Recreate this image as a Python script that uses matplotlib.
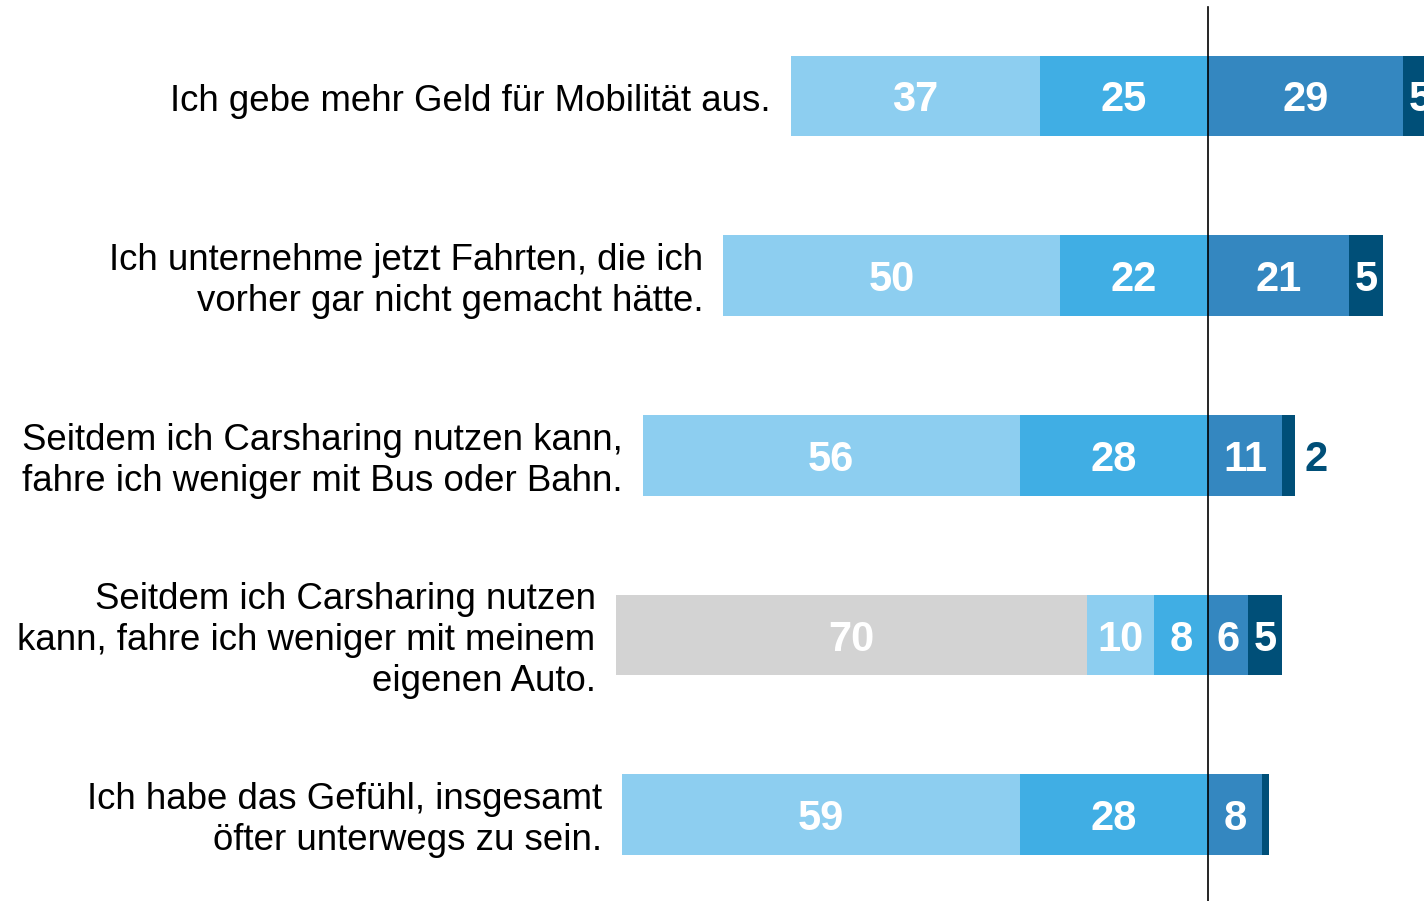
import matplotlib
matplotlib.use("Agg")
import matplotlib.pyplot as plt

questions = [
    "Ich gebe mehr Geld für Mobilität aus.",
    "Ich unternehme jetzt Fahrten, die ich\nvorher gar nicht gemacht hätte.",
    "Seitdem ich Carsharing nutzen kann,\nfahre ich weniger mit Bus oder Bahn.",
    "Seitdem ich Carsharing nutzen\nkann, fahre ich weniger mit meinem\neigenen Auto.",
    "Ich habe das Gefühl, insgesamt\nöfter unterwegs zu sein.",
]
na_vals = [0, 0, 0, 70, 0]
light = [37, 50, 56, 10, 59]
mid = [25, 22, 28, 8, 28]
dark = [29, 21, 11, 6, 8]
darkest = [5, 5, 2, 5, 1]

c_na = "#d3d3d3"
c_light = "#8dcef0"
c_mid = "#40aee4"
c_dark = "#3487c0"
c_darkest = "#004f78"

plt.rcParams["font.family"] = ["Liberation Sans", "DejaVu Sans"]

fig = plt.figure(figsize=(14.24, 9.01), dpi=100)
ax = fig.add_axes([0, 0, 1, 1])
ax.set_xlim(-179.5, 32.1)
ax.set_ylim(4.48, -0.534)
ax.axis("off")

h = 0.45
for i in range(len(questions)):
    # segments from left to right, center line between mid and dark
    left_start = -(na_vals[i] + light[i] + mid[i])
    segs = [(na_vals[i], c_na), (light[i], c_light), (mid[i], c_mid),
            (dark[i], c_dark), (darkest[i], c_darkest)]
    x = left_start
    for val, col in segs:
        if val == 0:
            continue
        ax.barh(i, val, left=x, height=h, color=col, edgecolor="none")
        if val >= 4:
            ax.text(x + val / 2, i, str(val), ha="center", va="center_baseline",
                    color="white", fontsize=30, fontweight="bold")
        elif val >= 2:
            ax.text(x + val + 1.3, i, str(val), ha="left", va="center_baseline",
                    color=c_darkest, fontsize=30, fontweight="bold")
        x += val
    ax.text(left_start - 3.0, i + 0.03, questions[i], ha="right", va="center",
            fontsize=26.4, color="black", linespacing=1.22)

ax.plot([0, 0], [-0.495, 4.48], color="black", linewidth=1.2)

fig.savefig("out.png", dpi=100)
